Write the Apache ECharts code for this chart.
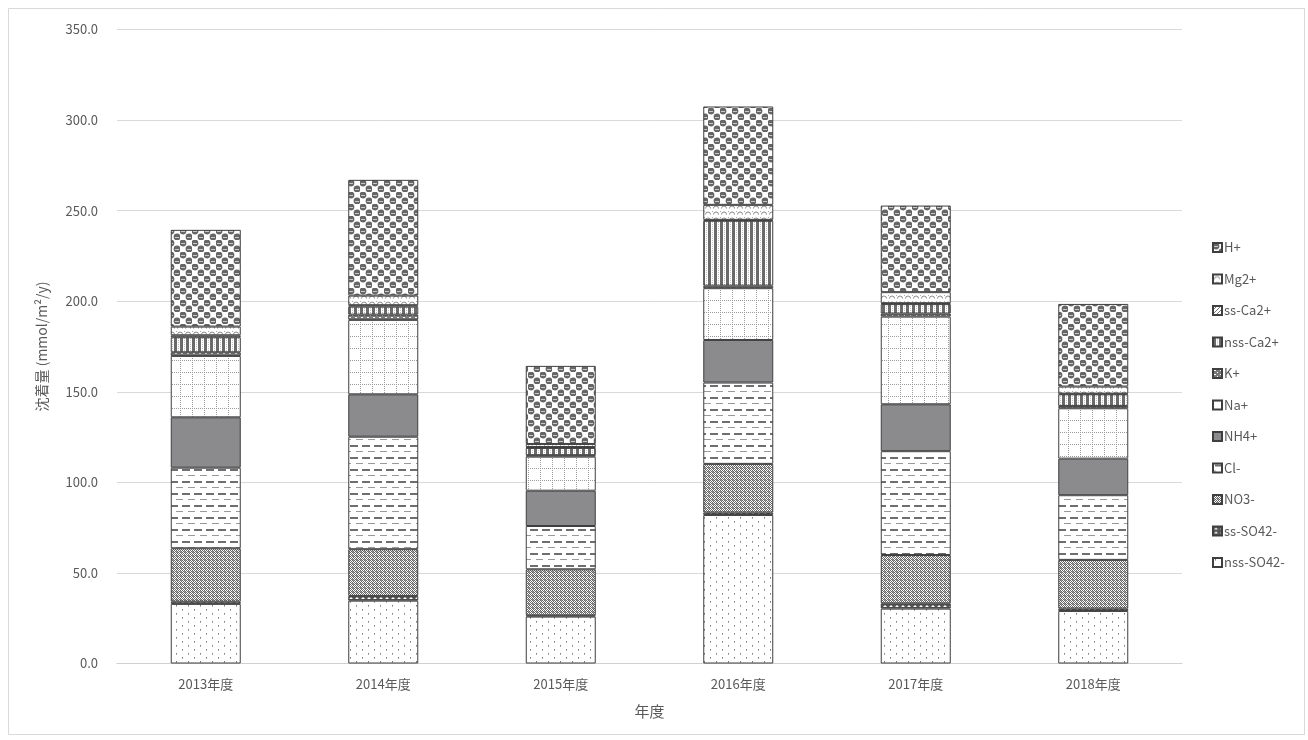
<!DOCTYPE html>
<html>
<head>
<meta charset="utf-8">
<script src="https://cdn.jsdelivr.net/npm/echarts@6/dist/echarts.min.js"></script>
<style>
html,body{margin:0;padding:0;background:#fff;}
#chart{width:1308px;height:740px;}
</style>
</head>
<body>
<div id="chart"></div>
<script>
// ---- data (mmol/m2/y), stacked bottom -> top ----
const categories = ['2013年度','2014年度','2015年度','2016年度','2017年度','2018年度'];
const seriesNames = ['nss-SO42-','ss-SO42-','NO3-','Cl-','NH4+','Na+','K+','nss-Ca2+','ss-Ca2+','Mg2+','H+'];
const nssSO4 = [32.9, 34.7, 25.9, 82.0, 30.3, 29.0];
const ssSO4  = [1.2, 2.6, 0.7, 1.3, 2.9, 1.3];
const NO3    = [29.5, 25.8, 25.4, 26.9, 26.7, 26.9];
const Cl     = [44.5, 62.1, 23.9, 44.9, 57.3, 35.7];
const NH4    = [27.8, 23.4, 19.5, 23.5, 25.9, 20.2];
const Na     = [33.9, 41.1, 18.8, 28.6, 48.4, 27.8];
const K      = [2.0, 2.9, 0.8, 1.4, 1.7, 1.3];
const nssCa  = [8.3, 4.4, 4.0, 35.8, 5.2, 6.4];
const ssCa   = [1.1, 0.8, 0.5, 0.5, 0.5, 0.4];
const Mg     = [4.8, 5.3, 1.7, 8.3, 6.1, 3.9];
const H      = [53.4, 63.9, 43.1, 54.3, 47.8, 45.6];
const yTickValues = [0, 50, 100, 150, 200, 250, 300, 350];
const xAxisTitle = '年度';
const yAxisTitle = '沈着量 (mmol/m²/y)';

const values = [nssSO4, ssSO4, NO3, Cl, NH4, Na, K, nssCa, ssCa, Mg, H];

// ---- fill patterns ----
function tile(w, h, draw) {
  const c = document.createElement('canvas');
  c.width = w; c.height = h;
  const g = c.getContext('2d');
  g.fillStyle = '#ffffff'; g.fillRect(0, 0, w, h);
  draw(g);
  return {image: c, repeat: 'repeat'};
}
const patterns = {
  'nss-SO42-': tile(12, 8, g => {
    g.fillStyle = '#7a7a7a'; g.fillRect(2, 1, 1, 1); g.fillRect(8, 5, 1, 1);
    g.fillStyle = '#b0b0b0'; g.fillRect(2, 2, 1, 1); g.fillRect(8, 6, 1, 1);
  }),
  'ss-SO42-': tile(6, 4, g => {
    g.fillStyle = '#555555'; g.fillRect(0, 0, 6, 4);
    g.fillStyle = '#ffffff';
    g.beginPath(); g.moveTo(1, 3); g.lineTo(3, 1); g.lineTo(5, 3); g.closePath(); g.fill();
  }),
  'NO3-': tile(4, 4, g => {
    g.fillStyle = '#666666';
    g.fillRect(0, 0, 1, 1); g.fillRect(2, 0, 1, 1); g.fillRect(1, 1, 1, 1); g.fillRect(3, 1, 1, 1);
    g.fillRect(0, 2, 1, 1); g.fillRect(2, 2, 1, 1); g.fillRect(1, 3, 1, 1); g.fillRect(3, 3, 1, 1);
    g.fillStyle = '#a0a0a0'; g.fillRect(1, 0, 1, 1); g.fillRect(0, 3, 1, 1);
  }),
  'Cl-': tile(12, 12, g => {
    g.fillStyle = '#6f6f6f'; g.fillRect(2, 1, 8, 2);
    g.fillStyle = '#9a9a9a'; g.fillRect(8, 7, 4, 1); g.fillRect(0, 7, 3, 1);
  }),
  'NH4+': '#8b8b8e',
  'Na+': tile(12, 12, g => {
    g.fillStyle = '#9a9a9a';
    for (let i = 0; i < 12; i += 2) { g.fillRect(i, 0, 1, 1); g.fillRect(0, i, 1, 1); }
  }),
  'K+': tile(6, 4, g => {
    g.fillStyle = '#7a7a7a'; g.fillRect(0, 0, 6, 4);
    g.fillStyle = '#ffffff'; g.fillRect(1, 1, 2, 1); g.fillRect(4, 3, 1, 1);
  }),
  'nss-Ca2+': tile(6, 2, g => {
    g.fillStyle = '#6a6a6a'; g.fillRect(0, 0, 3, 2);
    g.fillStyle = '#c0c0c0'; g.fillRect(4, 0, 1, 1);
  }),
  'ss-Ca2+': tile(4, 4, g => {
    g.fillStyle = '#777777';
    g.fillRect(3, 0, 1, 1); g.fillRect(2, 1, 1, 1); g.fillRect(1, 2, 1, 1); g.fillRect(0, 3, 1, 1);
  }),
  'Mg2+': tile(8, 6, g => {
    g.strokeStyle = '#8a8a8a'; g.lineWidth = 1;
    g.beginPath(); g.arc(4, 4.5, 2.5, Math.PI, 0); g.stroke();
    g.fillStyle = '#aaaaaa'; g.fillRect(0, 1, 1, 1);
  }),
  'H+': tile(12, 12, g => {
    g.fillStyle = '#666666';
    g.beginPath(); g.arc(3, 3, 3.4, 0, Math.PI * 2); g.fill();
    g.beginPath(); g.arc(9, 9, 3.4, 0, Math.PI * 2); g.fill();
    g.fillStyle = '#c8c8c8'; g.fillRect(1, 3, 4, 1); g.fillRect(7, 9, 4, 1);
  })
};

const font = '"Noto Sans CJK JP", "Noto Sans", sans-serif';
const txt = '#595959';

const chart = echarts.init(document.getElementById('chart'), null, {renderer: 'canvas'});
chart.setOption({
  animation: false,
  backgroundColor: '#ffffff',
  textStyle: {fontFamily: font},
  graphic: [{
    type: 'rect', silent: true, z: -10,
    shape: {x: 8.5, y: 8.5, width: 1296, height: 726},
    style: {fill: 'none', stroke: '#d9d9d9', lineWidth: 1}
  }],
  grid: {left: 117, right: 126, top: 29.5, bottom: 76.5},
  legend: {
    orient: 'vertical',
    left: 1207,
    top: 235,
    itemWidth: 9,
    itemHeight: 9,
    itemGap: 16.5,
    icon: 'rect',
    data: seriesNames.slice().reverse(),
    textStyle: {color: txt, fontSize: 13, fontFamily: font, lineHeight: 15, padding: [0, 0, 0, -3]}
  },
  xAxis: {
    type: 'category',
    data: categories,
    name: xAxisTitle,
    nameLocation: 'middle',
    nameGap: 40,
    nameTextStyle: {color: txt, fontSize: 15, fontFamily: font},
    axisLine: {lineStyle: {color: '#d0d0d0', width: 1}},
    axisTick: {show: false},
    axisLabel: {color: txt, fontSize: 13, margin: 14, fontFamily: font}
  },
  yAxis: {
    type: 'value',
    min: yTickValues[0],
    max: yTickValues[yTickValues.length - 1],
    interval: yTickValues[1] - yTickValues[0],
    name: yAxisTitle,
    nameLocation: 'middle',
    nameRotate: 90,
    nameGap: 68,
    nameTextStyle: {color: txt, fontSize: 14, fontFamily: font},
    axisLine: {show: false},
    axisTick: {show: false},
    splitLine: {lineStyle: {color: '#d9d9d9', width: 1}},
    axisLabel: {color: txt, fontSize: 13, margin: 19, fontFamily: font,
      formatter: v => v.toFixed(1)}
  },
  series: seriesNames.map((name, i) => ({
    name: name,
    type: 'bar',
    stack: 'total',
    barWidth: 70,
    data: values[i],
    itemStyle: {color: patterns[name], borderColor: '#3f3f3f', borderWidth: 1},
    emphasis: {disabled: true}
  }))
});
</script>
</body>
</html>
